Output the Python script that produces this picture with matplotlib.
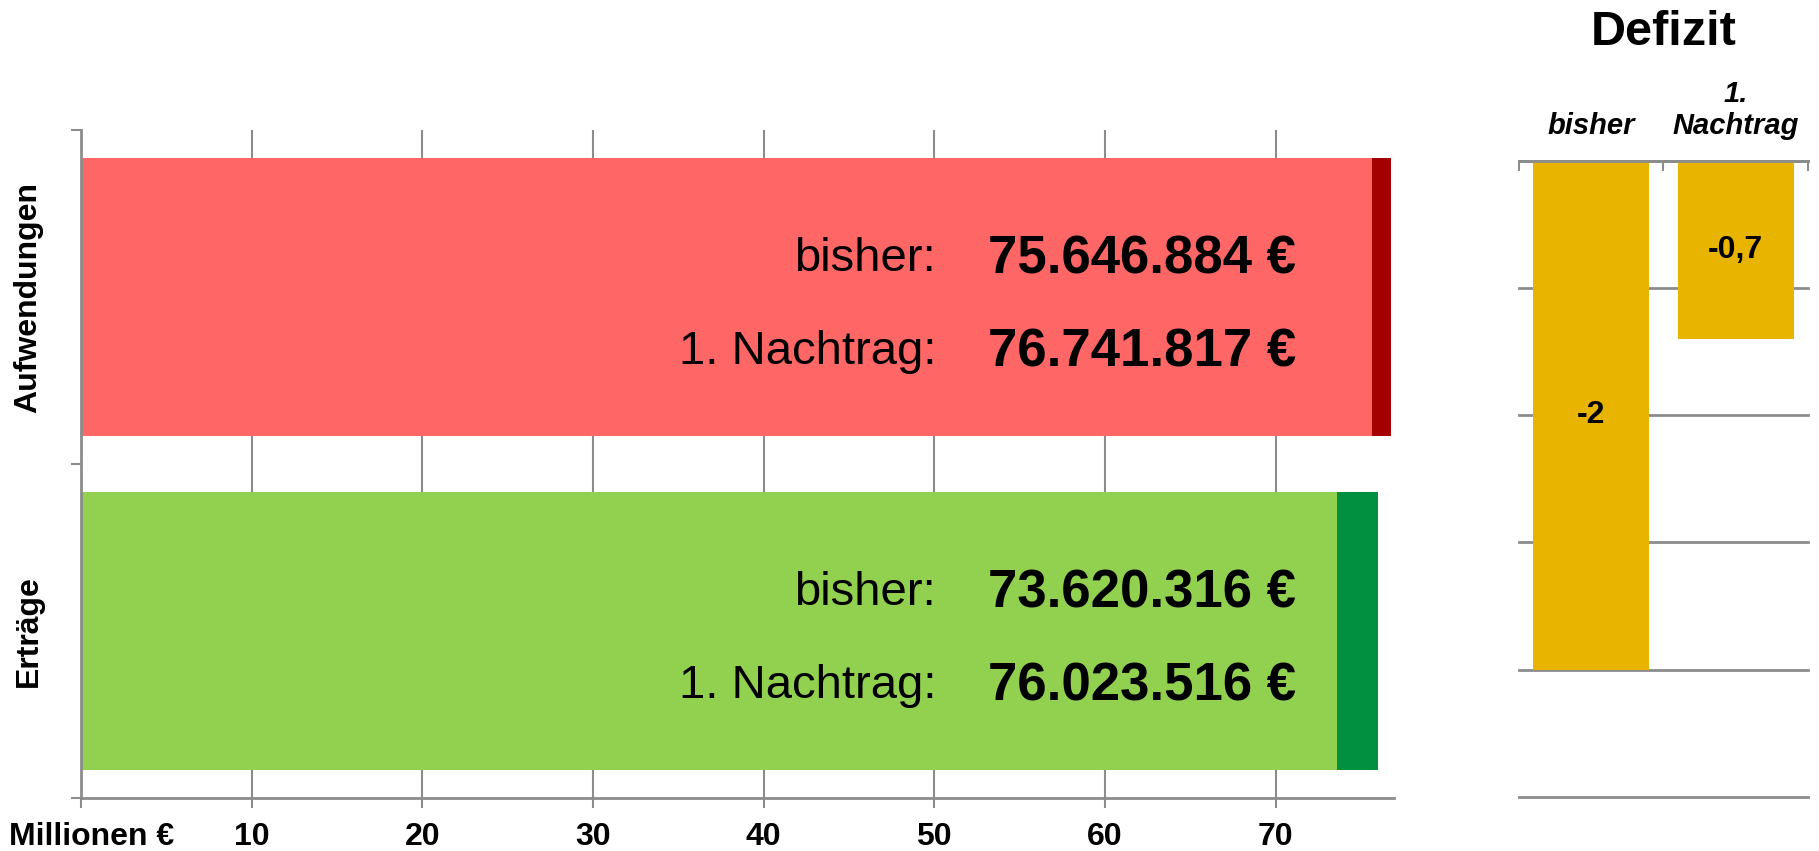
import matplotlib.pyplot as plt

plt.rcParams['font.family'] = ['Liberation Sans', 'DejaVu Sans']

# Daten (Euro)
kategorien = ['Erträge', 'Aufwendungen']
werte_bisher = [73620316, 75646884]
werte_nachtrag = [76023516, 76741817]
farbe_hell = ['#92D050', '#FF6666']
farbe_dunkel = ['#009040', '#A50000']

defizit_labels = ['bisher', '1.\nNachtrag']
defizit_werte = [-2.0, -0.7]
defizit_text = ['-2', '-0,7']

x_ticks = [0, 10, 20, 30, 40, 50, 60, 70]
x_ticklabels = ['', '10', '20', '30', '40', '50', '60', '70']

grau = '#8C8C8C'


def euro(v):
    return f'{v:,}'.replace(',', '.') + ' €'


fig = plt.figure(figsize=(18.19, 8.51), dpi=100)

# linkes Diagramm
ax = fig.add_axes([0.0445, 0.0623, 0.722, 0.7847])
ypos = list(range(len(kategorien)))
mio_bisher = [v / 1e6 for v in werte_bisher]
mio_diff = [(n - b) / 1e6 for n, b in zip(werte_nachtrag, werte_bisher)]
ax.barh(ypos, mio_bisher, height=0.833, color=farbe_hell, zorder=2)
ax.barh(ypos, mio_diff, left=mio_bisher, height=0.833, color=farbe_dunkel, zorder=2)

for y, b, n in zip(ypos, werte_bisher, werte_nachtrag):
    ax.text(50.1, y + 0.13, 'bisher:', ha='right', va='center_baseline', fontsize=34, zorder=3)
    ax.text(71.2, y + 0.13, euro(b), ha='right', va='center_baseline', fontsize=38,
            fontweight='bold', zorder=3)
    ax.text(50.1, y - 0.15, '1. Nachtrag:', ha='right', va='center_baseline', fontsize=34, zorder=3)
    ax.text(71.2, y - 0.15, euro(n), ha='right', va='center_baseline', fontsize=38,
            fontweight='bold', zorder=3)

ax.set_xlim(0, 76.95)
ax.set_ylim(-0.5, 1.5)
ax.set_xticks(x_ticks)
ax.set_xticklabels(x_ticklabels, fontsize=23, fontweight='bold')
# Einheit links unter der Achse
ax.annotate('Millionen €', xy=(0, 0), xycoords=('data', 'axes fraction'),
            xytext=(8, -17), textcoords='offset points', ha='center', va='top',
            fontsize=23, fontweight='bold', annotation_clip=False)
ax.set_yticks([-0.5, 0.5, 1.5])
ax.set_yticklabels([])
ax.set_yticks(ypos, minor=True)
ax.set_yticklabels(kategorien, minor=True, rotation=90, va='center',
                   fontsize=23, fontweight='bold')
ax.tick_params(axis='y', which='minor', length=0, pad=27)
ax.tick_params(axis='both', which='major', length=7, width=1.5, color=grau, pad=10)
ax.grid(axis='x', color=grau, linewidth=1.5, zorder=0)
for s in ['top', 'right']:
    ax.spines[s].set_visible(False)
for s in ['left', 'bottom']:
    ax.spines[s].set_color(grau)
    ax.spines[s].set_linewidth(2)

# rechtes Diagramm: Defizit
ax2 = fig.add_axes([0.835, 0.0638, 0.159, 0.7473])
xpos = list(range(len(defizit_werte)))
bars = ax2.bar(xpos, defizit_werte, width=0.8, color='#E8B400', zorder=2)
ax2.bar_label(bars, labels=defizit_text, label_type='center', fontsize=23, fontweight='bold')
ax2.set_xlim(-0.5, 1.5)
ax2.set_ylim(-2.5, 0)
ax2.set_yticks([-2.5, -2.0, -1.5, -1.0, -0.5, 0])
ax2.set_yticklabels([])
ax2.tick_params(axis='y', length=0)
ax2.grid(axis='y', color=grau, linewidth=2, zorder=0)
for gl in ax2.get_ygridlines():
    gl.set_clip_on(False)
ax2.xaxis.tick_top()
ax2.set_xticks([-0.5, 0.5, 1.5])
ax2.set_xticklabels([])
ax2.set_xticks(xpos, minor=True)
ax2.set_xticklabels(defizit_labels, minor=True, fontsize=21, fontweight='bold',
                    fontstyle='italic', multialignment='center')
ax2.tick_params(axis='x', which='major', direction='in', length=7, width=1.5, color=grau)
ax2.tick_params(axis='x', which='minor', length=0, pad=15)
for s in ['left', 'right', 'bottom']:
    ax2.spines[s].set_visible(False)
ax2.spines['top'].set_color(grau)
ax2.spines['top'].set_linewidth(2)
ax2.set_title('Defizit', fontsize=35, fontweight='bold', pad=83)

fig.savefig('out.png', dpi=100)
